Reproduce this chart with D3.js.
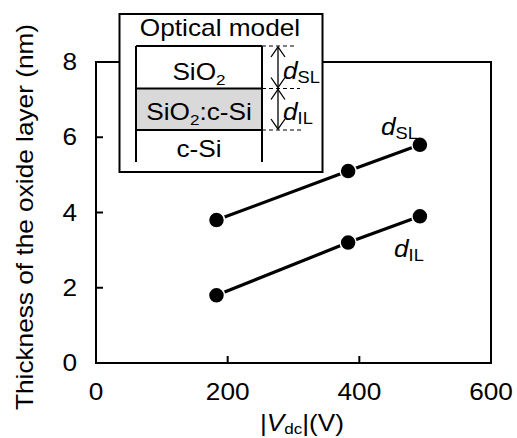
<!DOCTYPE html>
<html>
<head>
<meta charset="utf-8">
<script src="https://cdn.jsdelivr.net/npm/d3@7"></script>
<style>
  body { margin: 0; background: #fff; }
  text { font-family: "Liberation Sans", Arial, sans-serif; fill: #000; }
</style>
</head>
<body>
<div id="chart"></div>
<script>
// data
const vdc = [183, 383, 492];
const dSL = [3.8, 5.1, 5.8];
const dIL = [1.8, 3.2, 3.9];
const xTicks = [0, 200, 400, 600];
const yTicks = [0, 2, 4, 6, 8];

const W = 517, H = 438;
const SX = 1.14;   // the original font is a bit wider than Arial

const svg = d3.select("#chart").append("svg")
  .attr("width", W).attr("height", H);

const x = d3.scaleLinear().domain([0, 600]).range([96, 491]);
const y = d3.scaleLinear().domain([0, 8]).range([363, 62]);

// helper: stretched text
function label(g, tx, ty, anchor, size, rot) {
  return g.append("text")
    .attr("transform", "translate(" + tx + "," + ty + ")" + (rot ? " rotate(" + rot + ")" : "") + " scale(" + SX + ",1)")
    .attr("text-anchor", anchor)
    .style("font-size", size + "px");
}

// plot frame
svg.append("rect")
  .attr("x", x(0)).attr("y", y(8))
  .attr("width", x(600) - x(0)).attr("height", y(0) - y(8))
  .attr("fill", "none").attr("stroke", "#000").attr("stroke-width", 2);

// inner ticks
svg.selectAll(".xt").data(xTicks.slice(1, -1)).enter().append("line")
  .attr("x1", d => x(d)).attr("x2", d => x(d))
  .attr("y1", y(0)).attr("y2", y(0) - 7)
  .attr("stroke", "#000").attr("stroke-width", 2);
svg.selectAll(".yt").data(yTicks.slice(1, -1)).enter().append("line")
  .attr("x1", x(0)).attr("x2", x(0) + 7)
  .attr("y1", d => y(d)).attr("y2", d => y(d))
  .attr("stroke", "#000").attr("stroke-width", 2);

// tick labels
xTicks.forEach(d => label(svg, x(d), 400, "middle", 23).text(d));
yTicks.forEach(d => label(svg, 77, y(d) + 8, "end", 23).text(d));

// axis titles
label(svg, 33, 217, "middle", 23, -90).text("Thickness of the oxide layer (nm)");
const xt = label(svg, 302, 431, "middle", 23);
xt.append("tspan").text("|");
xt.append("tspan").style("font-style", "italic").text("V");
xt.append("tspan").attr("dy", 3).style("font-size", "15px").text("dc");
xt.append("tspan").attr("dy", -3).text("|(V)");

// series
const line = d3.line().x(d => x(d[0])).y(d => y(d[1]));
[dSL, dIL].forEach(s => {
  const pts = vdc.map((v, i) => [v, s[i]]);
  svg.append("path").attr("d", line(pts))
    .attr("fill", "none").attr("stroke", "#000").attr("stroke-width", 3.2);
  svg.selectAll(null).data(pts).enter().append("circle")
    .attr("cx", d => x(d[0])).attr("cy", d => y(d[1])).attr("r", 8)
    .attr("fill", "#000").attr("stroke", "#fff").attr("stroke-width", 1.5);
});

function dLabel(g, tx, ty, sub, size, subSize) {
  const t = label(g, tx, ty, "start", size);
  t.append("tspan").style("font-style", "italic").text("d");
  t.append("tspan").attr("dy", 4).style("font-size", subSize + "px").text(sub);
  return t;
}
dLabel(svg, 381, 135, "SL", 23, 16);
dLabel(svg, 394, 257, "IL", 23, 16);

// inset: optical model
const ins = svg.append("g");
ins.append("rect").attr("x", 119.5).attr("y", 14).attr("width", 203).attr("height", 158)
  .attr("fill", "#fff").attr("stroke", "#000").attr("stroke-width", 2);
label(ins, 220, 36, "middle", 23).text("Optical model");

const L = 136, R = 262, t0 = 46, t1 = 88.5, t2 = 130, bot = 162;
ins.append("rect").attr("x", L).attr("y", t1).attr("width", R - L).attr("height", t2 - t1)
  .attr("fill", "#d9d9d9");
[[L, t0, L, bot], [R, t0, R, bot], [L, t0, R, t0], [L, t1, R, t1], [L, t2, R, t2]].forEach(s =>
  ins.append("line").attr("x1", s[0]).attr("y1", s[1]).attr("x2", s[2]).attr("y2", s[3])
    .attr("stroke", "#000").attr("stroke-width", 2));
[[t0, 297], [t1, 300], [t2, 302]].forEach(s =>
  ins.append("line").attr("x1", R).attr("x2", s[1]).attr("y1", s[0]).attr("y2", s[0])
    .attr("stroke", "#000").attr("stroke-width", 1.2).attr("stroke-dasharray", "4,3"));

// double arrows
const ax = 278;
[[t0, t1], [t1, t2]].forEach(s => {
  ins.append("line").attr("x1", ax).attr("x2", ax).attr("y1", s[0] + 1).attr("y2", s[1] - 1)
    .attr("stroke", "#000").attr("stroke-width", 1.3);
  ins.append("path").attr("d", `M${ax - 7},${s[0] + 11}L${ax},${s[0] + 1}L${ax + 7},${s[0] + 11}`)
    .attr("fill", "none").attr("stroke", "#000").attr("stroke-width", 1.3);
  ins.append("path").attr("d", `M${ax - 7},${s[1] - 11}L${ax},${s[1] - 1}L${ax + 7},${s[1] - 11}`)
    .attr("fill", "none").attr("stroke", "#000").attr("stroke-width", 1.3);
});
dLabel(ins, 283, 79, "SL", 23, 16);
dLabel(ins, 283, 120, "IL", 23, 16);

const s1 = label(ins, 199, 80, "middle", 23);
s1.append("tspan").text("SiO");
s1.append("tspan").attr("dy", 5).style("font-size", "15px").text("2");
const s2 = label(ins, 199, 120, "middle", 23);
s2.append("tspan").text("SiO");
s2.append("tspan").attr("dy", 5).style("font-size", "15px").text("2");
s2.append("tspan").attr("dy", -5).text(":c-Si");
label(ins, 199, 157, "middle", 23).text("c-Si");
</script>
</body>
</html>
